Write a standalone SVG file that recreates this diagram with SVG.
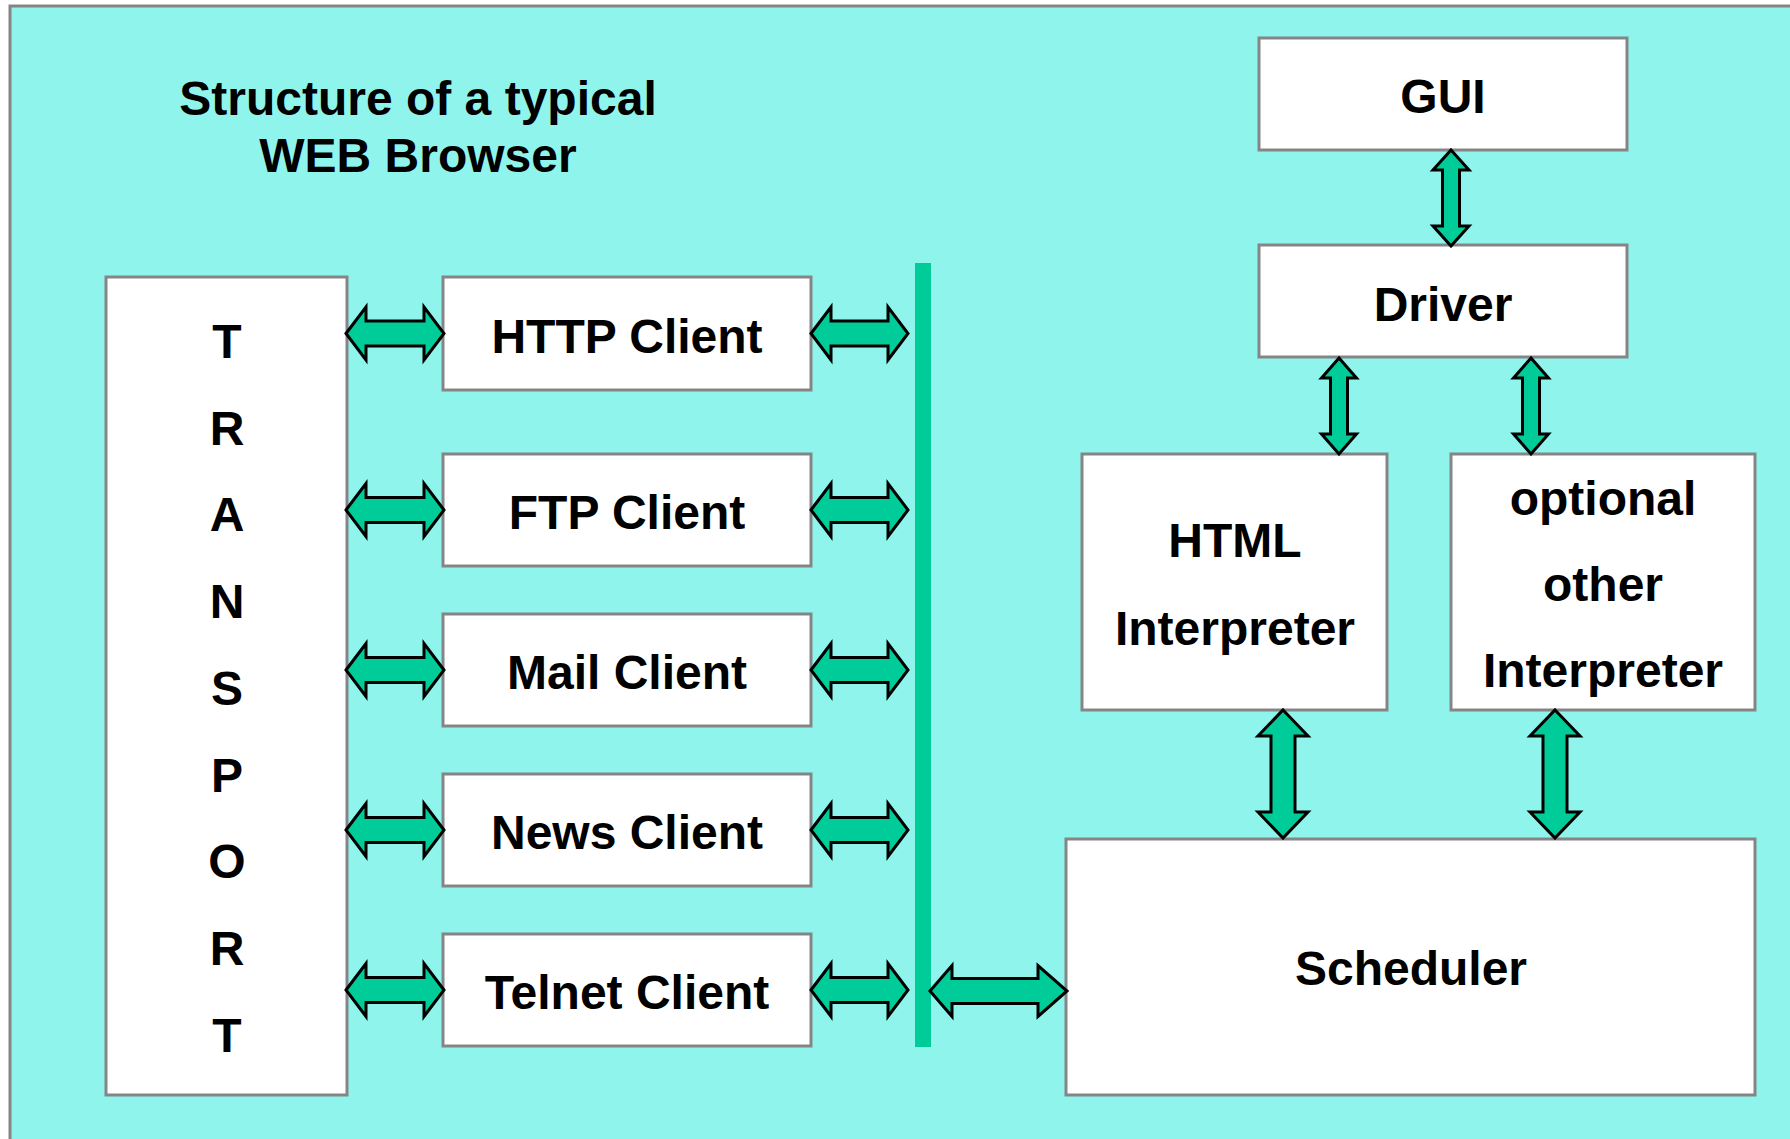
<svg xmlns="http://www.w3.org/2000/svg" width="1790" height="1139" viewBox="0 0 1790 1139">
<style>
.bg{fill:#8ff5ec;stroke:#858585;stroke-width:3}
.box{fill:#ffffff;stroke:#858585;stroke-width:3}
.t{font-family:"Liberation Sans",Arial,sans-serif;font-weight:bold;font-size:48px;fill:#000;text-anchor:middle}
.arr{fill:#00cc99;stroke:#000;stroke-width:3;stroke-linejoin:miter}
</style>
<rect x="0" y="0" width="1790" height="1139" fill="#ffffff"/>
<rect class="bg" x="10" y="6" width="1800" height="1160"/>
<g id="title">
<text class="t" x="418" y="115">Structure of a typical</text>
<text class="t" x="418" y="172">WEB Browser</text>
</g>
<g id="bar"><rect x="915" y="263" width="16" height="784" fill="#00cc99"/></g>
<g id="transport">
<rect class="box" x="106" y="277" width="241" height="818"/>
<text class="t" x="227" y="358">T</text>
<text class="t" x="227" y="445">R</text>
<text class="t" x="227" y="531">A</text>
<text class="t" x="227" y="618">N</text>
<text class="t" x="227" y="705">S</text>
<text class="t" x="227" y="792">P</text>
<text class="t" x="227" y="878">O</text>
<text class="t" x="227" y="965">R</text>
<text class="t" x="227" y="1052">T</text>
</g>
<g id="http"><rect class="box" x="443" y="277" width="368" height="113"/><text class="t" x="627" y="353">HTTP Client</text></g>
<g id="ftp"><rect class="box" x="443" y="454" width="368" height="112"/><text class="t" x="627" y="529">FTP Client</text></g>
<g id="mail"><rect class="box" x="443" y="614" width="368" height="112"/><text class="t" x="627" y="689">Mail Client</text></g>
<g id="news"><rect class="box" x="443" y="774" width="368" height="112"/><text class="t" x="627" y="849">News Client</text></g>
<g id="telnet"><rect class="box" x="443" y="934" width="368" height="112"/><text class="t" x="627" y="1009">Telnet Client</text></g>
<g id="gui"><rect class="box" x="1259" y="38" width="368" height="112"/><text class="t" x="1443" y="113">GUI</text></g>
<g id="driver"><rect class="box" x="1259" y="245" width="368" height="112"/><text class="t" x="1443" y="321">Driver</text></g>
<g id="html"><rect class="box" x="1082" y="454" width="305" height="256"/><text class="t" x="1235" y="557">HTML</text><text class="t" x="1235" y="645">Interpreter</text></g>
<g id="other"><rect class="box" x="1451" y="454" width="304" height="256"/><text class="t" x="1603" y="515">optional</text><text class="t" x="1603" y="601">other</text><text class="t" x="1603" y="687">Interpreter</text></g>
<g id="scheduler"><rect class="box" x="1066" y="839" width="689" height="256"/><text class="t" x="1411" y="985">Scheduler</text></g>
<g id="connectors">
<polygon class="arr" points="346,333.5 366,307 366,321 424,321 424,307 444,333.5 424,360 424,346 366,346 366,360"/>
<polygon class="arr" points="346,510 366,483.5 366,497.5 424,497.5 424,483.5 444,510 424,536.5 424,522.5 366,522.5 366,536.5"/>
<polygon class="arr" points="346,670 366,643.5 366,657.5 424,657.5 424,643.5 444,670 424,696.5 424,682.5 366,682.5 366,696.5"/>
<polygon class="arr" points="346,830 366,803.5 366,817.5 424,817.5 424,803.5 444,830 424,856.5 424,842.5 366,842.5 366,856.5"/>
<polygon class="arr" points="346,990 366,963.5 366,977.5 424,977.5 424,963.5 444,990 424,1016.5 424,1002.5 366,1002.5 366,1016.5"/>
<polygon class="arr" points="811,333.5 831,307 831,321 888,321 888,307 908,333.5 888,360 888,346 831,346 831,360"/>
<polygon class="arr" points="811,510 831,483.5 831,497.5 888,497.5 888,483.5 908,510 888,536.5 888,522.5 831,522.5 831,536.5"/>
<polygon class="arr" points="811,670 831,643.5 831,657.5 888,657.5 888,643.5 908,670 888,696.5 888,682.5 831,682.5 831,696.5"/>
<polygon class="arr" points="811,830 831,803.5 831,817.5 888,817.5 888,803.5 908,830 888,856.5 888,842.5 831,842.5 831,856.5"/>
<polygon class="arr" points="811,990 831,963.5 831,977.5 888,977.5 888,963.5 908,990 888,1016.5 888,1002.5 831,1002.5 831,1016.5"/>
<polygon class="arr" points="930,991 952,965.5 952,978.5 1038,978.5 1038,965.5 1067,991 1038,1016.5 1038,1003.5 952,1003.5 952,1016.5"/>
<polygon class="arr" points="1451,150 1469,170 1459.5,170 1459.5,226 1469,226 1451,246 1433,226 1442.5,226 1442.5,170 1433,170"/>
<polygon class="arr" points="1339,358 1356.5,378 1347.5,378 1347.5,434 1356.5,434 1339,454 1321.5,434 1330.5,434 1330.5,378 1321.5,378"/>
<polygon class="arr" points="1531,358 1548.5,378 1539.5,378 1539.5,434 1548.5,434 1531,454 1513.5,434 1522.5,434 1522.5,378 1513.5,378"/>
<polygon class="arr" points="1283,710 1308,736 1295,736 1295,812 1308,812 1283,838 1258,812 1271,812 1271,736 1258,736"/>
<polygon class="arr" points="1555,710 1580,736 1567,736 1567,812 1580,812 1555,838 1530,812 1543,812 1543,736 1530,736"/>
</g>
</svg>
